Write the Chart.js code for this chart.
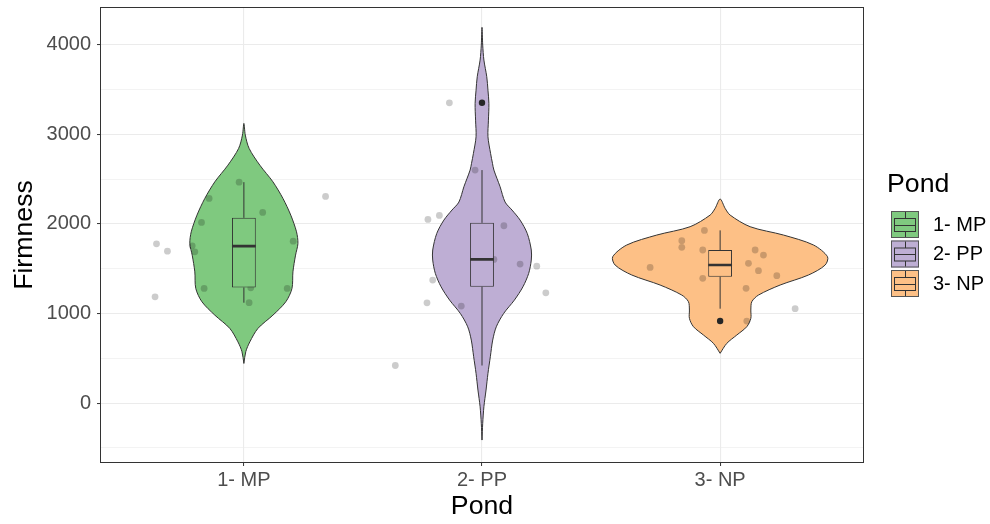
<!DOCTYPE html>
<html>
<head>
<meta charset="utf-8">
<title>Firmness by Pond</title>
<script src="https://cdn.jsdelivr.net/npm/chart.js@4/dist/chart.umd.min.js"></script>
<style>
  html, body { margin: 0; padding: 0; background: #ffffff; }
  #wrap { width: 990px; height: 524px; }
</style>
</head>
<body>
<div id="wrap"><canvas id="chart" width="990" height="524"></canvas></div>
<script>
// Groups and their fill colours (ColorBrewer "Accent")
const ponds = ['1- MP', '2- PP', '3- NP'];
const pondFills = ['#7FC97F', '#BEAED4', '#FDC086'];

// Y axis: labelled (major) ticks and the minor grid in between
const yTickLabels = [0, 1000, 2000, 3000, 4000];
const yMinorTicks = [-500, 500, 1500, 2500, 3500];

// Violin outlines: firmness level and half-width (in category units)
const mpViolinY = [443, 574, 684, 834, 982, 1131, 1280, 1465, 1652, 1782, 1912, 2098, 2285, 2470, 2656, 2843, 2992, 3122];
const mpViolinW = [0, .008, .025, .059, .122, .176, .202, .206, .217, .227, .221, .197, .164, .122, .067, .022, .006, 0];
const ppViolinY = [-412, -226, -40, 146, 332, 518, 704, 852, 1001, 1150, 1299, 1448, 1597, 1709, 1894, 2043, 2155, 2244, 2415, 2601, 2676, 2788, 2973, 3158, 3345, 3493, 3643, 3829, 3996, 4194];
const ppViolinW = [0, .003, .008, .017, .025, .035, .045, .060, .091, .136, .172, .196, .207, .207, .190, .160, .126, .097, .076, .050, .044, .036, .025, .027, .029, .025, .020, .008, .003, 0];
const npViolinY = [556, 667, 760, 853, 946, 1039, 1132, 1206, 1318, 1430, 1541, 1634, 1765, 1876, 1969, 2099, 2174, 2278];
const npViolinW = [0, .028, .070, .112, .129, .129, .133, .161, .252, .371, .441, .451, .392, .266, .126, .042, .021, 0];

// Box statistics: lower whisker, Q1, median, Q3, upper whisker
const boxLow    = [1121, 420, 1054];
const boxQ1     = [1291, 1299, 1411];
const boxMedian = [1752, 1604, 1541];
const boxQ3     = [2068, 2012, 1709];
const boxHigh   = [2466, 2601, 1928];
// Outliers: group position and firmness
const outlierGroup = [2, 3];
const outlierValue = [3352, 916];

// Observations with their horizontal jitter offsets
const mpFirmness = [2466, 2285, 2128, 2017, 1778, 1696, 1756, 1689, 1808, 2307, 1280, 1280, 1287, 1121, 1186];
const mpJitter   = [-0.020, -0.146, 0.079, -0.178, -0.367, -0.321, -0.217, -0.206, 0.207, 0.343, -0.167, 0.182, 0.029, 0.022, -0.373];
const ppFirmness = [3352, 2601, 2050, 2095, 1980, 1604, 1552, 1529, 1231, 1373, 1120, 1083, 420];
const ppJitter   = [-0.137, -0.029, -0.227, -0.179, 0.092, 0.050, 0.160, 0.230, 0.268, -0.207, -0.231, -0.087, -0.364];
const npFirmness = [1928, 1813, 1739, 1709, 1515, 1709, 1653, 1560, 1478, 1422, 1393, 1281, 1054, 916];
const npJitter   = [-0.066, -0.161, -0.161, -0.073, -0.294, 0.147, 0.182, 0.119, 0.161, 0.238, -0.073, 0.109, 0.315, 0.112];

const FONT = '"Liberation Sans", Arial, Helvetica, sans-serif';
Chart.defaults.font.family = FONT;

function violinOutline(center, ys, ws) {
  const right = ys.map((y, i) => ({ x: center + ws[i], y }));
  const left = ys.map((y, i) => ({ x: center - ws[i], y })).reverse();
  return right.concat(left.slice(1));
}

function jitterPoints(center, vals, offs) {
  return vals.map((v, i) => ({ x: center + offs[i], y: v }));
}

const violins = [
  [mpViolinY, mpViolinW],
  [ppViolinY, ppViolinW],
  [npViolinY, npViolinW]
].map((v, i) => ({
  type: 'line',
  data: violinOutline(i + 1, v[0], v[1]),
  borderColor: '#333333',
  borderWidth: 1,
  backgroundColor: pondFills[i],
  fill: 'shape',
  tension: 0.3,
  pointRadius: 0,
  order: 10
}));

const whiskerData = [];
const medianData = [];
ponds.forEach((p, i) => {
  const c = i + 1;
  whiskerData.push({ x: c, y: boxLow[i] }, { x: c, y: boxQ1[i] }, { x: c, y: null });
  whiskerData.push({ x: c, y: boxQ3[i] }, { x: c, y: boxHigh[i] }, { x: c, y: null });
  medianData.push({ x: c - 0.05, y: boxMedian[i] }, { x: c + 0.05, y: boxMedian[i] }, { x: c, y: null });
});

const datasets = violins.concat([
  {
    type: 'scatter',
    data: jitterPoints(1, mpFirmness, mpJitter)
      .concat(jitterPoints(2, ppFirmness, ppJitter))
      .concat(jitterPoints(3, npFirmness, npJitter)),
    backgroundColor: 'rgba(0,0,0,0.2)',
    borderWidth: 0,
    pointRadius: 3.4,
    order: 6
  },
  {
    type: 'line',
    data: whiskerData,
    borderColor: '#333333',
    borderWidth: 1,
    pointRadius: 0,
    spanGaps: false,
    fill: false,
    order: 5
  },
  {
    type: 'bar',
    data: ponds.map((p, i) => ({ x: i + 1, y: [boxQ1[i], boxQ3[i]] })),
    backgroundColor: pondFills,
    borderColor: '#333333',
    borderWidth: 1,
    borderSkipped: false,
    barPercentage: 0.1,
    categoryPercentage: 1,
    grouped: false,
    order: 4
  },
  {
    type: 'line',
    data: medianData,
    borderColor: '#333333',
    borderWidth: 2.6,
    pointRadius: 0,
    spanGaps: false,
    fill: false,
    order: 2
  },
  {
    type: 'scatter',
    data: outlierGroup.map((g, i) => ({ x: g, y: outlierValue[i] })),
    backgroundColor: '#262626',
    borderWidth: 0,
    pointRadius: 3.2,
    order: 1
  }
]);

// Panel border and the legend on the right
const framePlugin = {
  id: 'frameAndLegend',
  afterDraw(chart) {
    const { ctx, chartArea: a } = chart;
    ctx.save();
    ctx.strokeStyle = '#333333';
    ctx.lineWidth = 1;
    ctx.strokeRect(Math.floor(a.left) - 0.5, Math.floor(a.top) - 0.5,
      Math.round(a.right - a.left) + 1, Math.round(a.bottom - a.top) + 1);

    ctx.fillStyle = '#000000';
    ctx.textAlign = 'left';
    ctx.textBaseline = 'middle';
    ctx.font = '26.7px ' + FONT;
    ctx.fillText('Pond', 887, 185);

    const kx = 891, ks = 28;
    ponds.forEach((p, i) => {
      const ky = 211 + i * 29.5;
      ctx.fillStyle = pondFills[i];
      ctx.fillRect(kx, ky, ks, ks - 1);
      ctx.strokeStyle = '#555555';
      ctx.lineWidth = 1;
      ctx.strokeRect(kx + 0.5, ky + 0.5, ks - 1, ks - 2);
      // mini box glyph
      ctx.strokeStyle = '#333333';
      const bx0 = kx + 3.5, bx1 = kx + ks - 3.5;
      const by0 = ky + 7.5, by1 = ky + ks - 7.5;
      const cx = kx + ks / 2, cy = ky + (ks - 1) / 2;
      ctx.strokeRect(bx0, by0, bx1 - bx0, by1 - by0);
      ctx.beginPath();
      ctx.moveTo(bx0, Math.round(cy) + 0.5); ctx.lineTo(bx1, Math.round(cy) + 0.5);
      ctx.moveTo(Math.round(cx) + 0.5, ky + 1); ctx.lineTo(Math.round(cx) + 0.5, by0);
      ctx.moveTo(Math.round(cx) + 0.5, by1); ctx.lineTo(Math.round(cx) + 0.5, ky + ks - 2);
      ctx.stroke();

      ctx.fillStyle = '#000000';
      ctx.font = '20px ' + FONT;
      ctx.fillText(p, 933, ky + ks / 2);
    });
    ctx.restore();
  }
};

new Chart(document.getElementById('chart'), {
  type: 'scatter',
  data: { datasets },
  options: {
    responsive: false,
    animation: false,
    layout: { padding: { left: 0, right: 127, top: 8, bottom: 0 } },
    plugins: { legend: { display: false }, tooltip: { enabled: false } },
    scales: {
      x: {
        type: 'linear',
        min: 0.4,
        max: 3.6,
        offset: false,
        afterBuildTicks: s => { s.ticks = ponds.map((p, i) => ({ value: i + 1 })); },
        afterFit: s => { s.height = 62; s.paddingLeft = 0; s.paddingRight = 0; },
        ticks: {
          autoSkip: false,
          maxRotation: 0,
          padding: 2,
          color: '#4D4D4D',
          font: { size: 20 },
          callback: v => ponds[Math.round(v) - 1]
        },
        grid: {
          offset: false,
          color: '#EBEBEB',
          lineWidth: 1.1,
          tickLength: 4,
          tickColor: '#333333',
          tickWidth: 1
        },
        border: { display: false },
        title: {
          display: true,
          text: 'Pond',
          color: '#000000',
          font: { size: 26.7 },
          padding: { top: 0, bottom: 1 }
        }
      },
      y: {
        type: 'linear',
        min: -657,
        max: 4410,
        afterBuildTicks: s => {
          s.ticks = yMinorTicks.concat(yTickLabels).sort((a, b) => a - b).map(v => ({ value: v }));
        },
        afterFit: s => { s.width = 101; s.paddingTop = 0; s.paddingBottom = 0; },
        ticks: {
          autoSkip: false,
          padding: 6,
          color: '#4D4D4D',
          font: { size: 20 },
          callback: v => (yTickLabels.includes(v) ? String(v) : '')
        },
        grid: {
          offset: false,
          color: '#EBEBEB',
          lineWidth: c => (c.tick && yTickLabels.includes(c.tick.value) ? 1.1 : 0.6),
          tickLength: 4,
          tickColor: c => (c.tick && yTickLabels.includes(c.tick.value) ? '#333333' : 'rgba(0,0,0,0)'),
          tickWidth: 1
        },
        border: { display: false },
        title: {
          display: true,
          text: 'Firmness',
          color: '#000000',
          font: { size: 26.7 },
          padding: { top: 9, bottom: 0 }
        }
      }
    }
  },
  plugins: [framePlugin]
});
</script>
</body>
</html>
